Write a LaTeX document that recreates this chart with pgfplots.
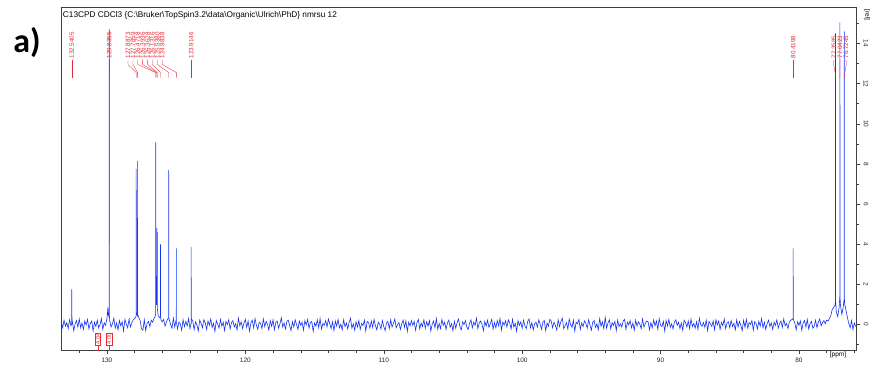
\documentclass[border=0pt]{standalone}
\usepackage{fontspec}
\setmainfont{Liberation Sans}
\newfontfamily\carlito{Carlito}
\usepackage{pgfplots}
\pgfplotsset{compat=1.18}
\definecolor{specblue}{RGB}{20,50,240}
\definecolor{labred}{RGB}{228,45,55}
\begin{document}
\begin{tikzpicture}
\path[use as bounding box] (-61bp,-22.3bp) rectangle (814bp,350.7bp);
\begin{axis}[
  at={(0,0)}, anchor=south west, scale only axis,
  width=795.7bp, height=343.4bp,
  x dir=reverse, xmin=75.83, xmax=133.32, ymin=-1.3, ymax=15.8,
  xtick={80,90,...,130}, minor xtick={76,78,...,132},
  ytick={0,2,...,14}, minor ytick={-1,1,...,15},
  xtick pos=left, ytick pos=right,
  tick align=outside, major tick length=3.5bp, minor tick length=2bp,
  axis line style={black!75, line width=0.5pt},
  tick style={black!75, line width=0.4pt},
  tick label style={font=\fontsize{6.5}{7}\selectfont, text=black!85},
  yticklabel style={rotate=-90, anchor=south},
  /pgf/number format/assume math mode=true,
  clip mode=individual,
]
\addplot[specblue, line width=0.6pt] coordinates {
(133.3,0.12) (133.2,-0.16) (133.1,0.22) (133.0,-0.08)
(132.9,0.10) (132.8,-0.20) (132.7,0.24) (132.6,-0.06) (132.555,0.02) (132.54,1.75) (132.525,0.03) (132.5,0.16) (132.4,-0.30) (132.3,0.04) (132.2,0.20) (132.1,-0.12) (132.0,0.28)
(131.9,-0.16) (131.8,0.08) (131.7,-0.24) (131.6,0.18) (131.5,-0.02) (131.4,0.26) (131.3,-0.22) (131.2,0.06) (131.1,0.18) (131.0,-0.32)
(130.9,0.12) (130.8,-0.10) (130.7,0.22) (130.6,-0.16) (130.5,0.00) (130.4,0.30) (130.3,-0.24) (130.2,0.10) (130.1,-0.04) (130.0,0.30)
(129.93,0.85) (129.9,0.45) (129.845,0.6) (129.835,14.7) (129.825,0.5) (129.8,0.20) (129.7,-0.12) (129.6,0.04) (129.5,0.32) (129.4,-0.18) (129.3,0.08) (129.2,-0.26) (129.1,0.20) (129.0,-0.06)
(128.9,0.14) (128.8,-0.32) (128.7,0.26) (128.6,0.02) (128.5,-0.16) (128.4,0.28) (128.3,-0.12) (128.2,0.10) (128.1,0.24) (128.0,0.30)
(127.9,0.40) (127.895,0.45) (127.887,7.75) (127.88,0.6) (127.8,0.45) (127.793,0.5) (127.786,8.15) (127.779,0.5) (127.7,0.35) (127.6,0.20) (127.5,-0.20) (127.4,-0.28) (127.3,0.24) (127.2,-0.30) (127.1,0.06) (127.0,0.16)
(126.9,-0.10) (126.8,0.22) (126.7,0.12) (126.6,0.30) (126.5,0.45) (126.48,0.55) (126.472,9.07) (126.465,1.0) (126.4,1.0) (126.394,4.8) (126.388,1.5) (126.37,1.3) (126.363,4.6) (126.356,0.8) (126.3,0.45) (126.2,0.35) (126.14,0.4) (126.132,4.0) (126.125,0.4) (126.1,0.25) (126.0,0.14)
(125.9,0.26) (125.8,-0.08) (125.7,0.14) (125.6,0.30) (125.545,0.3) (125.538,7.7) (125.531,0.3) (125.5,0.25) (125.4,0.00) (125.3,-0.18) (125.2,0.32) (125.1,-0.12) (125.0,0.24)
(124.99,0.1) (124.984,3.8) (124.978,0.1) (124.9,-0.22) (124.8,0.12) (124.7,0.04) (124.6,-0.28) (124.5,0.24) (124.4,-0.10) (124.3,0.16) (124.2,-0.06) (124.1,0.30) (124.0,-0.20)
(123.922,0.05) (123.915,3.87) (123.908,0.05) (123.9,0.28) (123.8,0.20) (123.7,-0.26) (123.6,0.14) (123.5,-0.02) (123.4,-0.32) (123.3,0.22) (123.2,0.06) (123.1,-0.16) (123.0,0.24)
(122.9,0.10) (122.8,-0.24) (122.7,0.18) (122.6,-0.04) (122.5,0.28) (122.4,-0.14) (122.3,0.06) (122.2,-0.34) (122.1,0.20) (122.0,0.02)
(121.9,-0.18) (121.8,0.26) (121.7,-0.08) (121.6,0.12) (121.5,-0.30) (121.4,0.16) (121.3,0.00) (121.2,0.24) (121.1,-0.22) (121.0,0.10)
(120.9,0.20) (120.8,-0.12) (120.7,0.04) (120.6,-0.26) (120.5,0.32) (120.4,-0.06) (120.3,0.14) (120.2,-0.20) (120.1,0.08) (120.0,0.26)
(119.9,-0.14) (119.8,0.18) (119.7,-0.32) (119.6,0.08) (119.5,0.22) (119.4,-0.16) (119.3,0.30) (119.2,-0.04) (119.1,-0.24) (119.0,0.12)
(118.9,0.06) (118.8,-0.20) (118.7,0.28) (118.6,-0.10) (118.5,0.16) (118.4,0.02) (118.3,-0.28) (118.2,0.20) (118.1,-0.08) (118.0,0.24)
(117.9,-0.26) (117.8,0.10) (117.7,0.18) (117.6,-0.18) (117.5,0.04) (117.4,0.34) (117.3,-0.12) (117.2,0.08) (117.1,-0.22) (117.0,0.16)
(116.9,0.22) (116.8,-0.06) (116.7,-0.30) (116.6,0.14) (116.5,-0.12) (116.4,0.24) (116.3,0.00) (116.2,-0.24) (116.1,0.18) (116.0,-0.04)
(115.9,0.12) (115.8,-0.28) (115.7,0.20) (115.6,-0.02) (115.5,0.26) (115.4,-0.18) (115.3,0.10) (115.2,0.16) (115.1,-0.34) (115.0,0.08)
(114.9,-0.08) (114.8,0.24) (114.7,-0.16) (114.6,0.30) (114.5,-0.22) (114.4,0.06) (114.3,-0.04) (114.2,0.20) (114.1,-0.12) (114.0,0.28)
(113.9,0.04) (113.8,-0.20) (113.7,0.14) (113.6,-0.30) (113.5,0.18) (113.4,-0.08) (113.3,0.26) (113.2,-0.16) (113.1,0.02) (113.0,-0.26)
(112.9,0.24) (112.8,-0.10) (112.7,0.08) (112.6,-0.22) (112.5,0.12) (112.4,0.32) (112.3,-0.18) (112.2,0.04) (112.1,-0.28) (112.0,0.14)
(111.9,-0.12) (111.8,0.20) (111.7,-0.24) (111.6,0.06) (111.5,-0.04) (111.4,0.22) (111.3,-0.32) (111.2,0.16) (111.1,0.10) (111.0,-0.18)
(110.9,0.18) (110.8,-0.14) (110.7,0.26) (110.6,-0.06) (110.5,-0.26) (110.4,0.12) (110.3,0.02) (110.2,-0.22) (110.1,0.20) (110.0,-0.10)
(109.9,-0.30) (109.8,0.08) (109.7,0.16) (109.6,-0.20) (109.5,0.24) (109.4,-0.12) (109.3,0.06) (109.2,0.28) (109.1,-0.16) (109.0,0.00)
(108.9,0.10) (108.8,-0.24) (108.7,0.04) (108.6,0.22) (108.5,-0.14) (108.4,0.18) (108.3,-0.34) (108.2,0.12) (108.1,-0.06) (108.0,0.20)
(107.9,-0.04) (107.8,0.16) (107.7,-0.28) (107.6,0.10) (107.5,0.26) (107.4,-0.22) (107.3,0.08) (107.2,-0.10) (107.1,0.24) (107.0,-0.18)
(106.9,0.14) (106.8,-0.08) (106.7,0.20) (106.6,-0.32) (106.5,0.02) (106.4,0.18) (106.3,-0.16) (106.2,0.30) (106.1,-0.24) (106.0,0.06)
(105.9,-0.20) (105.8,0.26) (105.7,-0.04) (105.6,0.12) (105.5,-0.24) (105.4,0.08) (105.3,0.22) (105.2,-0.14) (105.1,0.04) (105.0,-0.30)
(104.9,0.16) (104.8,-0.18) (104.7,0.10) (104.6,0.28) (104.5,-0.10) (104.4,-0.26) (104.3,0.14) (104.2,0.00) (104.1,0.20) (104.0,-0.12)
(103.9,-0.24) (103.8,0.06) (103.7,0.24) (103.6,-0.16) (103.5,0.12) (103.4,-0.04) (103.3,0.32) (103.2,-0.20) (103.1,0.08) (103.0,0.18)
(102.9,0.02) (102.8,-0.30) (102.7,0.16) (102.6,-0.08) (102.5,0.22) (102.4,-0.14) (102.3,0.04) (102.2,0.26) (102.1,-0.22) (102.0,0.10)
(101.9,-0.16) (101.8,0.20) (101.7,-0.06) (101.6,0.30) (101.5,-0.28) (101.4,0.12) (101.3,-0.02) (101.2,0.18) (101.1,-0.12) (101.0,0.24)
(100.9,0.08) (100.8,-0.22) (100.7,0.26) (100.6,-0.12) (100.5,0.06) (100.4,-0.34) (100.3,0.20) (100.2,-0.04) (100.1,0.14) (100.0,-0.18)
(99.9,0.22) (99.8,-0.06) (99.7,-0.20) (99.6,0.16) (99.5,0.28) (99.4,-0.16) (99.3,0.10) (99.2,-0.26) (99.1,0.04) (99.0,0.12)
(98.9,-0.12) (98.8,0.24) (98.7,0.02) (98.6,-0.24) (98.5,0.14) (98.4,0.20) (98.3,-0.30) (98.2,0.08) (98.1,-0.08) (98.0,0.26)
(97.9,0.18) (97.8,-0.16) (97.7,0.12) (97.6,-0.04) (97.5,-0.28) (97.4,0.24) (97.3,-0.10) (97.2,0.16) (97.1,0.32) (97.0,-0.20)
(96.9,-0.06) (96.8,0.10) (96.7,-0.22) (96.6,0.28) (96.5,0.00) (96.4,-0.14) (96.3,0.22) (96.2,-0.32) (96.1,0.12) (96.0,0.04)
(95.9,0.26) (95.8,-0.24) (95.7,0.08) (95.6,-0.10) (95.5,0.18) (95.4,0.06) (95.3,-0.18) (95.2,0.24) (95.1,-0.02) (95.0,-0.28)
(94.9,0.12) (94.8,0.20) (94.7,-0.14) (94.6,0.04) (94.5,-0.26) (94.4,0.30) (94.3,-0.08) (94.2,0.14) (94.1,-0.20) (94.0,0.36)
(93.9,-0.18) (93.8,0.08) (93.7,0.24) (93.6,-0.22) (93.5,0.10) (93.4,-0.04) (93.3,0.16) (93.2,-0.30) (93.1,0.22) (93.0,-0.10)
(92.9,0.04) (92.8,-0.12) (92.7,0.18) (92.6,0.26) (92.5,-0.24) (92.4,0.12) (92.3,-0.02) (92.2,0.20) (92.1,-0.16) (92.0,0.08)
(91.9,-0.28) (91.8,0.22) (91.7,-0.08) (91.6,0.14) (91.5,0.02) (91.4,-0.20) (91.3,0.28) (91.2,-0.12) (91.1,0.06) (91.0,0.18)
(90.9,0.14) (90.8,-0.26) (90.7,0.10) (90.6,-0.16) (90.5,0.24) (90.4,-0.06) (90.3,0.18) (90.2,-0.24) (90.1,0.30) (90.0,-0.04)
(89.9,-0.10) (89.8,0.16) (89.7,-0.32) (89.6,0.20) (89.5,-0.08) (89.4,0.26) (89.3,-0.14) (89.2,0.04) (89.1,-0.22) (89.0,0.12)
(88.9,0.24) (88.8,-0.04) (88.7,0.12) (88.6,-0.20) (88.5,0.08) (88.4,-0.28) (88.3,0.22) (88.2,0.10) (88.1,-0.12) (88.0,0.18)
(87.9,-0.20) (87.8,0.28) (87.7,-0.10) (87.6,0.06) (87.5,-0.18) (87.4,0.14) (87.3,-0.24) (87.2,0.32) (87.1,0.00) (87.0,-0.08)
(86.9,0.10) (86.8,-0.14) (86.7,0.22) (86.6,-0.30) (86.5,0.16) (86.4,0.04) (86.3,-0.10) (86.2,0.18) (86.1,-0.26) (86.0,0.24)
(85.9,-0.02) (85.8,0.18) (85.7,-0.24) (85.6,0.12) (85.5,-0.06) (85.4,0.28) (85.3,-0.20) (85.2,0.08) (85.1,0.14) (85.0,-0.16)
(84.9,0.20) (84.8,-0.10) (84.7,0.06) (84.6,-0.26) (84.5,0.24) (84.4,-0.12) (84.3,0.16) (84.2,-0.04) (84.1,-0.30) (84.0,0.22)
(83.9,-0.14) (83.8,0.26) (83.7,-0.18) (83.6,0.10) (83.5,0.00) (83.4,0.20) (83.3,-0.28) (83.2,0.14) (83.1,0.06) (83.0,-0.22)
(82.9,0.16) (82.8,-0.08) (82.7,0.30) (82.6,-0.16) (82.5,0.12) (82.4,-0.24) (82.3,0.04) (82.2,0.22) (82.1,-0.10) (82.0,0.08)
(81.9,-0.24) (81.8,0.12) (81.7,-0.04) (81.6,0.24) (81.5,-0.18) (81.4,0.06) (81.3,0.18) (81.2,-0.14) (81.1,0.28) (81.0,-0.06)
(80.9,0.06) (80.8,-0.20) (80.7,0.12) (80.6,0.22) (80.5,0.25) (80.426,0.3) (80.42,3.8) (80.414,0.3) (80.4,0.25) (80.3,0.08) (80.2,-0.26) (80.1,0.14) (80.0,-0.04)
(79.9,0.18) (79.8,-0.28) (79.7,0.08) (79.6,0.20) (79.5,-0.12) (79.4,0.26) (79.3,-0.22) (79.2,0.04) (79.1,0.16) (79.0,-0.18)
(78.9,-0.08) (78.8,0.22) (78.7,-0.16) (78.6,0.12) (78.5,0.28) (78.4,-0.06) (78.3,0.10) (78.2,0.20) (78.1,0.04) (78.0,0.22)
(77.9,0.18) (77.8,0.30) (77.7,0.45) (77.6,0.75) (77.5,0.85) (77.4,0.95) (77.366,1.2) (77.359,14.5) (77.352,1.2) (77.3,0.60) (77.2,0.40) (77.1,0.85) (77.049,1.4) (77.042,15.05) (77.035,1.4) (77.0,0.95)
(76.9,0.50) (76.8,0.90) (76.732,1.3) (76.725,14.6) (76.718,1.3) (76.7,1.05) (76.6,0.70) (76.5,0.35) (76.4,0.05) (76.3,-0.16) (76.2,0.20) (76.1,-0.24) (76.0,0.08)
(75.9,-0.10)
};
% overlay of the label line on the tall 129.8 peak
\draw[labred, opacity=0.55, line width=0.6pt] (axis cs:129.835,12.3) -- (axis cs:129.835,4.0);
% peak labels
\tikzset{plab/.style={labred, rotate=90, anchor=west, font=\fontsize{6.3}{7}\selectfont, inner sep=0pt}}
\node[plab] at (axis cs:132.54,13.25) {132.5405};
\node[plab] at (axis cs:129.835,13.25) {129.8355};
\node[plab] at (axis cs:128.48,13.25) {127.8873};
\node[plab] at (axis cs:128.12,13.25) {127.7859};
\node[plab] at (axis cs:127.77,13.25) {126.4718};
\node[plab] at (axis cs:127.42,13.25) {126.3936};
\node[plab] at (axis cs:127.06,13.25) {126.3628};
\node[plab] at (axis cs:126.71,13.25) {126.1316};
\node[plab] at (axis cs:126.35,13.25) {125.5380};
\node[plab] at (axis cs:126.00,13.25) {124.9838};
\node[plab] at (axis cs:123.915,13.25) {123.9146};
\node[plab] at (axis cs:80.42,13.25) {80.4198};
\node[plab] at (axis cs:77.47,13.25) {77.3585};
\node[plab] at (axis cs:77.04,13.25) {77.0423};
\node[plab] at (axis cs:76.60,13.25) {76.7245};
\tikzset{pline/.style={labred, line width=0.35pt}}
\draw[pline] (axis cs:132.54,13.2) -- (axis cs:132.54,12.3);
\draw[pline] (axis cs:129.835,13.2) -- (axis cs:129.835,12.3);
\draw[pline] (axis cs:128.48,13.2) -- (axis cs:128.48,12.95) -- (axis cs:127.887,12.55) -- (axis cs:127.887,12.3);
\draw[pline] (axis cs:128.12,13.2) -- (axis cs:128.12,12.95) -- (axis cs:127.786,12.55) -- (axis cs:127.786,12.3);
\draw[pline] (axis cs:127.77,13.2) -- (axis cs:127.77,12.95) -- (axis cs:126.472,12.55) -- (axis cs:126.472,12.3);
\draw[pline] (axis cs:127.42,13.2) -- (axis cs:127.42,12.95) -- (axis cs:126.394,12.55) -- (axis cs:126.394,12.3);
\draw[pline] (axis cs:127.06,13.2) -- (axis cs:127.06,12.95) -- (axis cs:126.363,12.55) -- (axis cs:126.363,12.3);
\draw[pline] (axis cs:126.71,13.2) -- (axis cs:126.71,12.95) -- (axis cs:126.132,12.55) -- (axis cs:126.132,12.3);
\draw[pline] (axis cs:126.35,13.2) -- (axis cs:126.35,12.95) -- (axis cs:125.538,12.55) -- (axis cs:125.538,12.3);
\draw[pline] (axis cs:126.00,13.2) -- (axis cs:126.00,12.95) -- (axis cs:124.984,12.55) -- (axis cs:124.984,12.3);
\draw[pline] (axis cs:123.915,13.2) -- (axis cs:123.915,12.3);
\draw[pline] (axis cs:80.42,13.2) -- (axis cs:80.42,12.3);
\draw[pline] (axis cs:77.47,13.2) to[out=-100,in=90] (axis cs:77.359,12.3);
\draw[pline] (axis cs:77.04,13.2) -- (axis cs:77.042,12.3);
\draw[pline] (axis cs:76.60,13.2) to[out=-80,in=90] (axis cs:76.725,12.3);
% integrals
\tikzset{ibox/.style={labred, draw=labred, line width=0.35pt, rotate=90, font=\fontsize{5.6}{6}\selectfont, inner sep=0.7pt}}
\node[ibox] at (axis cs:130.65,-0.72) {4.04};
\node[ibox] at (axis cs:129.85,-0.72) {4.00};
\draw[pline] (axis cs:130.65,-1.05) -- (axis cs:130.65,-1.3);
\draw[pline] (axis cs:129.85,-1.05) -- (axis cs:129.85,-1.3);
\end{axis}
\node[anchor=north west, font=\fontsize{8.3}{9}\selectfont, inner sep=0pt] at (1.8bp,339.8bp)
  {C13CPD CDCl3 \{C:\textbackslash Bruker\textbackslash TopSpin3.2\textbackslash data\textbackslash Organic\textbackslash Ulrich\textbackslash PhD\} nmrsu 12};
\node[font=\carlito\bfseries\fontsize{34}{34}\selectfont, inner sep=0pt] at (-34bp,308.7bp) {a)};
\node[font=\fontsize{6.5}{7}\selectfont, inner sep=0pt] at (777bp,-4.6bp) {[ppm]};
\node[font=\fontsize{6.5}{7}\selectfont, inner sep=0pt, rotate=-90] at (806bp,335.7bp) {[rel]};
\end{tikzpicture}
\end{document}
